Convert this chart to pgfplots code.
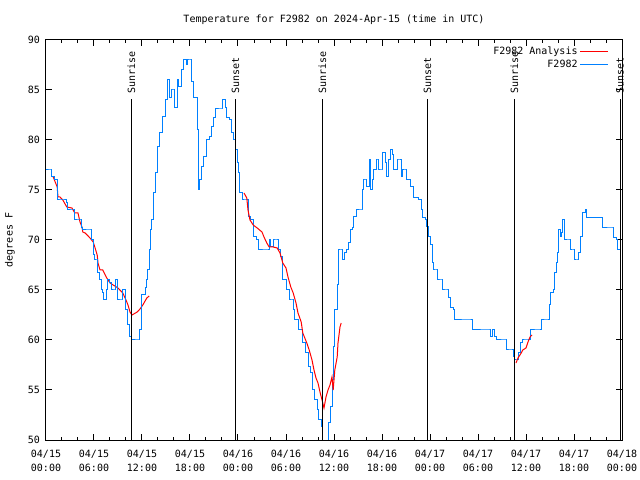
\documentclass[border=0pt]{standalone}
\usepackage{pgfplots}
\pgfplotsset{compat=1.18}
\usepackage{fontspec}
\setmainfont{DejaVu Sans Mono}
\definecolor{gblue}{RGB}{0,128,255}
\definecolor{gred}{RGB}{255,0,0}
\begin{document}
\fontsize{10bp}{12bp}\selectfont
\begin{tikzpicture}
\useasboundingbox (-46bp,-40bp) rectangle (594bp,440bp);
\begin{axis}[
  at={(0,0)}, anchor=south west,
  scale only axis, width=576bp, height=400bp,
  xmin=0, xmax=72, ymin=50, ymax=90,
  clip mode=individual,
  axis line style={line width=1bp},
  tick style={line width=1bp, black},
  tick align=inside,
  major tick length=6bp, minor tick length=3bp,
  xtick={0,6,...,72},
  minor x tick num=2,
  xticklabels={04/15\\00:00,04/15\\06:00,04/15\\12:00,04/15\\18:00,04/16\\00:00,04/16\\06:00,04/16\\12:00,04/16\\18:00,04/17\\00:00,04/17\\06:00,04/17\\12:00,04/17\\18:00,04/18\\00:00},
  xticklabel style={align=center, inner sep=0pt, yshift=-10bp, font=\fontsize{10bp}{14bp}\selectfont},
  ytick={50,55,...,90},
  yticklabel style={inner sep=0pt, xshift=-6bp},
  /pgf/number format/assume math mode=true,
  title={Temperature for F2982 on 2024-Apr-15 (time in UTC)},
  title style={at={(0.5,1)}, anchor=center, yshift=14bp, inner sep=0pt},
  ylabel={degrees F},
  every axis y label/.style={at={(axis description cs:0,0.5)}, xshift=-36bp, rotate=90, anchor=center, inner sep=0pt},
  legend style={draw=none, fill=none, at={(0.977,0.9875)}, anchor=north east, row sep=0pt, inner sep=0pt, font=\fontsize{10bp}{12bp}\selectfont,
    /tikz/every even column/.append style={column sep=5bp}},
  legend cell align=right,
  legend plot pos=right,
  legend image code/.code={\draw[#1] (0bp,0bp) -- (28bp,0bp);},
]
% Analysis segment 1
\addplot[gred, line width=1bp] coordinates {
(0.9,76.3) (1.4,75.3) (1.5,74.3) (1.75,74.3) (2.1,74) (2.6,73.3) (3.25,73.2) (3.6,72.7) (4.0,72.7) (4.25,71.8) (4.5,71.3) (4.6,70.8) (4.9,70.7) (5.5,70.2) (5.9,69.8) (6.1,69.3) (6.4,68.5) (6.5,67.7) (6.75,67) (7.1,67) (7.6,66.2) (8.0,65.7) (8.4,65.5) (9.0,65.2) (9.6,64.7) (10.0,64) (10.25,63.5) (10.5,62.8) (10.75,62.5) (11.4,62.8) (11.75,63.1) (12.1,63.5) (12.6,64.2) (12.9,64.4)
};
\addlegendentry{F2982 Analysis}
\addplot[gblue, line width=1bp, const plot] coordinates {
(0,77) (0.6,77) (0.75,76.3) (1.1,76) (1.5,74) (2.0,74) (2.6,73.7) (2.75,73) (3.4,73) (3.6,72) (4.25,72) (4.5,71.2) (4.6,71) (5.5,71) (5.75,70) (5.9,68.5) (6.1,68) (6.4,68) (6.5,66.7) (6.75,66) (7.0,65) (7.1,64.7) (7.25,64) (7.6,65) (7.75,66) (8.0,65.7) (8.25,65) (8.6,65) (8.75,66) (8.9,64) (9.5,64) (9.6,65) (9.9,64) (10.0,63) (10.25,61.5) (10.5,60.3) (10.75,60) (11.6,60) (11.75,61) (11.9,62.5) (12.0,64.5) (12.4,65.2) (12.6,66) (12.75,67) (12.9,69) (13.1,71) (13.2,72) (13.4,74.7) (13.75,76.7) (14.0,79.3) (14.25,80.7) (14.6,82.3) (15.0,84) (15.25,86) (15.4,84.2) (15.75,85) (15.9,85) (16.1,83.2) (16.5,86) (16.6,85.3) (17.0,87) (17.25,88) (17.6,87.5) (17.75,88) (18.0,88) (18.25,85.8) (18.4,84.2) (18.9,83.8) (19.0,81) (19.1,75) (19.25,76) (19.5,77.3) (19.75,78.3) (20.1,80) (20.5,80.3) (20.75,81.3) (21.0,82.2) (21.25,83.1) (22.0,83.1) (22.1,84) (22.4,83.2) (22.6,82.2) (23.0,82) (23.25,80.7) (23.5,80) (23.75,79) (24.0,77.7) (24.1,76.7) (24.25,74.7) (24.5,74) (24.9,74) (25.25,72.3) (25.6,72) (25.9,70.3) (26.25,70) (26.6,69) (27.6,69) (27.9,70) (28.1,69.3) (28.4,70) (28.75,70) (29.0,69) (29.25,68.3) (29.5,67.3) (29.6,66) (30.0,65) (30.4,64) (30.75,64) (30.9,63) (31.1,62) (31.5,61) (32.0,60.7) (32.1,59.7) (32.4,58.7) (32.75,57.3) (33.0,56.7) (33.25,55) (33.6,54) (33.9,53) (34.1,52) (34.4,51.3) (34.5,50.7) (34.6,50) (35.1,50) (35.25,51.7) (35.5,53.3) (35.75,56) (35.9,59.3) (36.1,63) (36.4,65.5) (36.5,67) (36.6,69) (36.9,69) (37.0,68) (37.25,68.7) (37.6,69) (37.75,69.7) (38.0,71) (38.25,71.2) (38.4,72.3) (38.75,73) (39.5,73) (39.6,75) (39.7,76) (39.9,76) (40.1,75.3) (40.4,78) (40.5,75) (40.75,76) (40.9,77) (41.25,78) (41.5,78) (41.6,77) (42.0,77) (42.1,78.7) (42.4,77.7) (42.6,76.3) (42.75,78) (43.0,79) (43.25,78.5) (43.4,77) (43.9,78) (44.1,78) (44.4,76.3) (44.6,77) (44.9,77) (45.1,76) (45.5,75.3) (45.9,74.2) (46.6,74) (46.9,73) (47.1,72.2) (47.4,72) (47.6,71.3) (47.75,70.3) (48.0,69.5) (48.25,67.7) (48.4,67) (48.75,67) (48.9,66) (49.5,66) (49.6,65) (50.1,65) (50.25,64.2) (50.5,64) (50.6,63.2) (50.9,63) (51.1,62) (52.9,62) (53.25,61) (55.4,61) (55.6,60.3) (55.75,61) (56.0,60.3) (56.25,60) (57.5,60) (57.6,59) (58.1,59) (58.4,58.3) (58.5,58) (58.9,58) (59.0,58.7) (59.25,59.7) (59.5,60) (60.0,60) (60.6,61) (61.6,61) (61.9,62) (62.6,62) (62.9,63.5) (63.1,64.7) (63.4,65) (63.5,66.7) (63.75,67.7) (63.9,68.7) (64.1,71) (64.25,70.3) (64.4,70.7) (64.6,72) (64.75,70) (65.4,70) (65.6,69) (65.9,69) (66.1,68) (66.4,68) (66.5,68.7) (66.75,70.3) (67.0,71.3) (67.1,72.7) (67.4,73) (67.6,72.2) (69.5,72) (69.6,71.2) (70.75,71.2) (70.9,70.2) (71.25,70) (71.4,69) (71.9,69)
};
\addlegendentry{F2982}
% Analysis segment 2
\addplot[gred, line width=1bp, forget plot] coordinates {
(24.75,74.7) (25.1,74.2) (25.25,73) (25.5,72) (25.9,71.5) (26.4,71.2) (27.0,70.8) (27.25,70.3) (27.6,69.7) (27.9,69.3) (28.4,69.3) (28.9,69.2) (29.25,68.7) (29.6,67.7) (30.0,67.2) (30.25,66.3) (30.6,65.3) (30.9,64.7) (31.25,63.7) (31.5,62.7) (31.9,61.8) (32.1,60.7) (32.6,59.7) (32.9,59) (33.25,58) (33.5,57) (33.75,56.2) (34.0,55.7) (34.25,54.8) (34.6,53.7) (34.75,53.2) (35.0,54.3) (35.25,55) (35.5,55.5) (35.75,56.3) (35.9,55) (36.1,57) (36.4,58.3) (36.5,59.7) (36.75,61.3) (36.9,61.7)
};
% Analysis segment 3
\addplot[gred, line width=1bp, forget plot] coordinates {
(58.75,57.7) (59.0,58.2) (59.4,58.7) (59.6,59) (60.0,59.2) (60.25,59.8) (60.5,60.3) (60.75,60.5)
};
% Sunrise / sunset lines
\addplot[black, line width=1bp, forget plot] coordinates {(10.66,50) (10.66,84.1)};
\addplot[black, line width=1bp, forget plot] coordinates {(23.7,50) (23.7,84.1)};
\addplot[black, line width=1bp, forget plot] coordinates {(34.54,50) (34.54,84.1)};
\addplot[black, line width=1bp, forget plot] coordinates {(47.67,50) (47.67,84.1)};
\addplot[black, line width=1bp, forget plot] coordinates {(58.54,50) (58.54,84.1)};
\addplot[black, line width=1bp, forget plot] coordinates {(71.75,50) (71.75,84.1)};
\node[rotate=90, anchor=west, inner sep=0pt] at (axis cs:10.66,84.65) {Sunrise};
\node[rotate=90, anchor=west, inner sep=0pt] at (axis cs:23.7,84.65) {Sunset};
\node[rotate=90, anchor=west, inner sep=0pt] at (axis cs:34.54,84.65) {Sunrise};
\node[rotate=90, anchor=west, inner sep=0pt] at (axis cs:47.67,84.65) {Sunset};
\node[rotate=90, anchor=west, inner sep=0pt] at (axis cs:58.54,84.65) {Sunrise};
\node[rotate=90, anchor=west, inner sep=0pt] at (axis cs:71.75,84.65) {Sunset};
\end{axis}
\end{tikzpicture}
\end{document}
